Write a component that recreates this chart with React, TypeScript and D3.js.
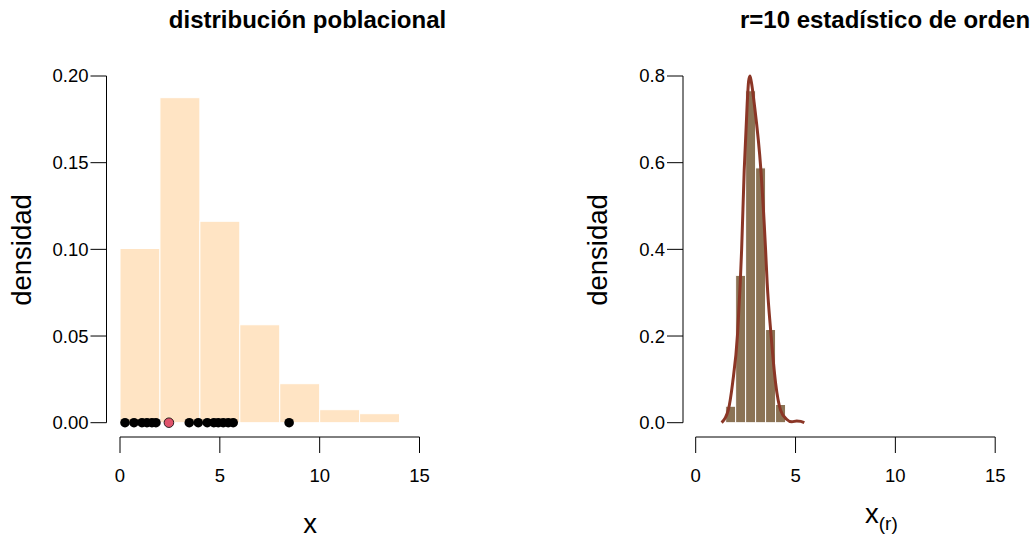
import React from "react";
import * as d3 from "d3";

// ---- Left panel: population distribution ----
const popBinEdges = [0, 2, 4, 6, 8, 10, 12, 14];
const popDensity = [0.1005, 0.1875, 0.1162, 0.0565, 0.0225, 0.0075, 0.0052];
const samplePoints = [0.25, 0.7, 1.1, 1.35, 1.6, 1.8, 3.47, 3.92, 4.37, 4.7, 4.92, 5.17, 5.42, 5.67, 8.47];
const orderStatPoint = 2.45;
const leftYTicks = [0, 0.05, 0.1, 0.15, 0.2];
const leftYTickLabels = ["0.00", "0.05", "0.10", "0.15", "0.20"];
const xTicks = [0, 5, 10, 15];

// ---- Right panel: r=10 order statistic ----
const osBinEdges = [1.5, 2.0, 2.5, 3.0, 3.5, 4.0, 4.5];
const osDensity = [0.038, 0.34, 0.766, 0.588, 0.215, 0.042];
const kdeX = [1.3, 1.63, 1.85, 2.1, 2.23, 2.3, 2.43, 2.58, 2.65, 2.715, 2.78, 2.93, 3.265, 3.5, 3.58, 3.765, 4.0, 4.25, 4.55, 4.82, 5.06, 5.26, 5.44];
const kdeY = [0.0, 0.029, 0.092, 0.207, 0.322, 0.399, 0.583, 0.737, 0.788, 0.8, 0.788, 0.737, 0.583, 0.399, 0.322, 0.207, 0.092, 0.029, 0.008, 0.002, 0.004, 0.003, 0.0];
const rightYTicks = [0, 0.2, 0.4, 0.6, 0.8];
const rightYTickLabels = ["0.0", "0.2", "0.4", "0.6", "0.8"];

const FONT = "'Liberation Sans', Arial, Helvetica, sans-serif";
const TICK = 16;

function Panel(props: {
  xOrigin: number;
  yAxisX: number;
  yTicks: number[];
  yTickLabels: string[];
  yMax: number;
  title: string;
  titleX: number;
  ylabX: number;
  children: (x: d3.ScaleLinear<number, number>, y: d3.ScaleLinear<number, number>) => React.ReactNode;
  xlabel: React.ReactNode;
}) {
  const x = d3.scaleLinear().domain([0, 15]).range([props.xOrigin, props.xOrigin + 299.5]);
  const y = d3.scaleLinear().domain([0, props.yMax]).range([422.7, 76]);
  const axisY = 437;
  return (
    <g>
      <text x={props.titleX} y={27.5} textAnchor="middle" fontFamily={FONT} fontWeight="bold" fontSize={24}>
        {props.title}
      </text>
      {props.children(x, y)}
      {/* y axis */}
      <line x1={props.yAxisX} x2={props.yAxisX} y1={y(0)} y2={y(props.yMax)} stroke="#000" strokeWidth={1} />
      {props.yTicks.map((t, i) => (
        <g key={"y" + i}>
          <line x1={props.yAxisX - TICK} x2={props.yAxisX} y1={y(t)} y2={y(t)} stroke="#000" strokeWidth={1} />
          <text x={props.yAxisX - TICK - 2} y={y(t)} dy="0.35em" textAnchor="end" fontFamily={FONT} fontSize={18.5}>
            {props.yTickLabels[i]}
          </text>
        </g>
      ))}
      {/* x axis */}
      <line x1={x(0)} x2={x(15)} y1={axisY} y2={axisY} stroke="#000" strokeWidth={1} />
      {xTicks.map((t) => (
        <g key={"x" + t}>
          <line x1={x(t)} x2={x(t)} y1={axisY} y2={axisY + TICK} stroke="#000" strokeWidth={1} />
          <text x={x(t)} y={482} textAnchor="middle" fontFamily={FONT} fontSize={18.5}>
            {t}
          </text>
        </g>
      ))}
      <text
        transform={`translate(${props.ylabX},250) rotate(-90)`}
        textAnchor="middle"
        fontFamily={FONT}
        fontSize={27.5}
      >
        densidad
      </text>
      {props.xlabel}
    </g>
  );
}

export default function App() {
  const line = (x: d3.ScaleLinear<number, number>, y: d3.ScaleLinear<number, number>) =>
    d3
      .line<number>()
      .x((_, i) => x(kdeX[i]))
      .y((d) => y(d))
      .curve(d3.curveMonotoneX)(kdeY) || "";

  return (
    <div style={{ position: "absolute", left: 0, top: 0 }}>
      <svg width={1034} height={538} style={{ display: "block", background: "#fff" }}>
        <Panel
          xOrigin={120}
          yAxisX={106.5}
          yTicks={leftYTicks}
          yTickLabels={leftYTickLabels}
          yMax={0.2}
          title="distribución poblacional"
          titleX={307.5}
          ylabX={31}
          xlabel={
            <text x={310} y={533} textAnchor="middle" fontFamily={FONT} fontSize={27.5}>
              x
            </text>
          }
        >
          {(x, y) => (
            <g>
              {popDensity.map((d, i) => (
                <rect
                  key={i}
                  x={x(popBinEdges[i])}
                  y={y(d)}
                  width={x(popBinEdges[i + 1]) - x(popBinEdges[i])}
                  height={y(0) - y(d)}
                  fill="#FFE4C4"
                  stroke="#fff"
                  strokeWidth={1}
                />
              ))}
              {samplePoints.map((p, i) => (
                <circle key={i} cx={x(p)} cy={y(0)} r={4.8} fill="#000" />
              ))}
              <circle cx={x(orderStatPoint)} cy={y(0)} r={4.8} fill="#DF536B" stroke="#000" strokeWidth={0.8} />
            </g>
          )}
        </Panel>
        <Panel
          xOrigin={695.7}
          yAxisX={683}
          yTicks={rightYTicks}
          yTickLabels={rightYTickLabels}
          yMax={0.8}
          title="r=10 estadístico de orden"
          titleX={885}
          ylabX={607}
          xlabel={
            <text x={865} y={523} fontFamily={FONT} fontSize={27.5}>
              x
              <tspan fontSize={19} dy={7}>
                (r)
              </tspan>
            </text>
          }
        >
          {(x, y) => (
            <g>
              {osDensity.map((d, i) => (
                <rect
                  key={i}
                  x={x(osBinEdges[i])}
                  y={y(d)}
                  width={x(osBinEdges[i + 1]) - x(osBinEdges[i])}
                  height={y(0) - y(d)}
                  fill="#8B7355"
                  stroke="#fff"
                  strokeWidth={1}
                />
              ))}
              <path d={line(x, y)} fill="none" stroke="#8B3626" strokeWidth={3} />
            </g>
          )}
        </Panel>
      </svg>
    </div>
  );
}
